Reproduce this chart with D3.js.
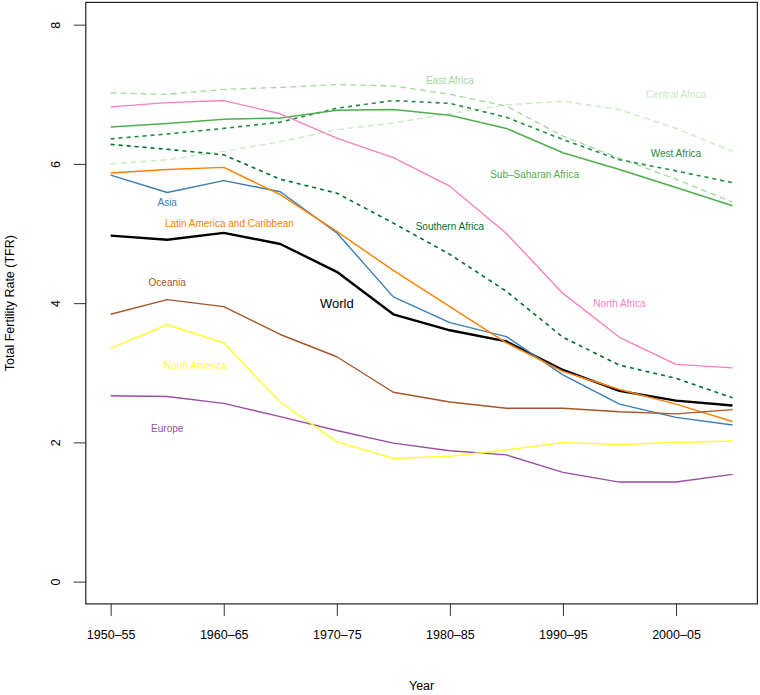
<!DOCTYPE html>
<html>
<head>
<meta charset="utf-8">
<script src="https://cdn.jsdelivr.net/npm/d3@7"></script>
<style>
html, body { margin: 0; padding: 0; background: #fff; }
svg { display: block; font-family: "Liberation Sans", Arial, Helvetica, sans-serif; }
</style>
</head>
<body>
<svg id="chart" width="760" height="695"></svg>
<script>
// ---- Data ----
const periods = ["1950–55","1955–60","1960–65","1965–70","1970–75","1975–80","1980–85","1985–90","1990–95","1995–00","2000–05","2005–10"];
const xTickIndex = [0, 2, 4, 6, 8, 10];
const xTickLabels = ["1950–55","1960–65","1970–75","1980–85","1990–95","2000–05"];
const yTicks = [0, 2, 4, 6, 8];

const world          = [4.97, 4.91, 5.01, 4.85, 4.45, 3.84, 3.61, 3.45, 3.04, 2.74, 2.60, 2.53];
const asia           = [5.84, 5.59, 5.76, 5.60, 5.01, 4.09, 3.72, 3.52, 2.97, 2.55, 2.36, 2.25];
const latinAmerica   = [5.87, 5.92, 5.95, 5.56, 5.03, 4.47, 3.95, 3.43, 3.02, 2.76, 2.55, 2.30];
const northAfrica    = [6.82, 6.88, 6.91, 6.72, 6.37, 6.09, 5.68, 5.00, 4.14, 3.51, 3.12, 3.07];
const subSaharan     = [6.53, 6.58, 6.64, 6.66, 6.77, 6.78, 6.70, 6.51, 6.16, 5.92, 5.66, 5.40];
const westAfrica     = [6.36, 6.43, 6.51, 6.60, 6.80, 6.91, 6.87, 6.67, 6.35, 6.06, 5.90, 5.73];
const southernAfrica = [6.28, 6.21, 6.13, 5.78, 5.58, 5.15, 4.70, 4.17, 3.51, 3.11, 2.92, 2.64];
const eastAfrica     = [7.02, 7.00, 7.07, 7.10, 7.14, 7.12, 7.00, 6.83, 6.40, 6.08, 5.78, 5.45];
const centralAfrica  = [6.00, 6.06, 6.18, 6.32, 6.49, 6.59, 6.72, 6.85, 6.90, 6.78, 6.51, 6.18];
const oceania        = [3.84, 4.05, 3.95, 3.55, 3.23, 2.72, 2.58, 2.49, 2.49, 2.44, 2.41, 2.47];
const northAmerica   = [3.35, 3.69, 3.43, 2.58, 2.01, 1.77, 1.80, 1.89, 2.00, 1.97, 2.00, 2.02];
const europe         = [2.67, 2.66, 2.56, 2.37, 2.17, 1.99, 1.88, 1.82, 1.57, 1.43, 1.43, 1.54];

const seriesNames = ["World","East Africa","Central Africa","West Africa","Southern Africa","Sub–Saharan Africa","North Africa","Asia","Europe","Latin America and Caribbean","North America","Oceania"];
const seriesValues = [world, eastAfrica, centralAfrica, westAfrica, southernAfrica, subSaharan, northAfrica, asia, europe, latinAmerica, northAmerica, oceania];
const seriesColors = ["#000000","#A1D99B","#C7E9C0","#238B45","#006D2C","#4DAF4A","#F781BF","#377EB8","#984EA3","#FF7F00","#FFFF33","#A65628"];
const seriesDash   = [null, "6,4", "6,4", "4,4", "4,4", null, null, null, null, null, null, null];
const seriesWidth  = [2.4, 1.3, 1.3, 1.6, 1.6, 1.5, 1.4, 1.4, 1.4, 1.4, 1.5, 1.4];

// label anchor positions (period index, TFR)
const labelX = [4, 6, 10, 10, 6, 7.5, 9, 1, 1, 2.1, 1.5, 1];
const labelY = [4.0, 7.2, 7.0, 6.15, 5.1, 5.85, 4.0, 5.45, 2.2, 5.15, 3.1, 4.3];
const labelSize = [13, 10, 10, 10, 10, 10, 10, 10, 10, 10, 10, 10];

// ---- Layout ----
const svg = d3.select("#chart");
const mLeft = 85.8, mRight = 757.4, mTop = 2.4, mBottom = 603.9;
const x = d3.scaleLinear().domain([-0.44, 11.44]).range([mLeft, mRight]);
const y = d3.scaleLinear().domain([-0.32, 8.32]).range([mBottom, mTop]);

// axes
const xAxis = d3.axisBottom(x).tickValues(xTickIndex)
  .tickFormat((d, i) => xTickLabels[i]).tickSize(12).tickPadding(14).tickSizeOuter(0);
const gx = svg.append("g").attr("transform", `translate(0,${mBottom})`).call(xAxis);
gx.select(".domain").remove();
gx.selectAll("line").attr("stroke", "#333").attr("stroke-width", 1);
gx.selectAll("text").attr("font-size", 12.5).attr("fill", "#000")
  .attr("font-family", "Liberation Sans, Arial, sans-serif");

const yAxis = d3.axisLeft(y).tickValues(yTicks).tickSize(12).tickSizeOuter(0).tickFormat("");
const gy = svg.append("g").attr("transform", `translate(${mLeft},0)`).call(yAxis);
gy.select(".domain").remove();
gy.selectAll("line").attr("stroke", "#333").attr("stroke-width", 1);
gy.selectAll(".tick text").remove();
gy.selectAll(".tick").append("text")
  .attr("transform", "translate(-30,0) rotate(-90)")
  .attr("text-anchor", "middle").attr("dy", "0.35em")
  .attr("font-size", 12.5).attr("fill", "#000")
  .attr("font-family", "Liberation Sans, Arial, sans-serif")
  .text(d => d);

// box
svg.append("rect").attr("x", mLeft).attr("y", mTop)
  .attr("width", mRight - mLeft).attr("height", mBottom - mTop)
  .attr("fill", "none").attr("stroke", "#222").attr("stroke-width", 1.2);

// axis titles
svg.append("text").attr("x", (mLeft + mRight) / 2).attr("y", 686)
  .attr("text-anchor", "middle").attr("dy", "0.35em").attr("font-size", 12.5).text("Year");
svg.append("text").attr("transform", `translate(10,${(mTop + mBottom) / 2}) rotate(-90)`)
  .attr("text-anchor", "middle").attr("dy", "0.35em").attr("font-size", 12.5)
  .text("Total Fertility Rate (TFR)");

// lines
const line = d3.line().x((d, i) => x(i)).y(d => y(d));
seriesValues.forEach((vals, k) => {
  svg.append("path").datum(vals)
    .attr("d", line)
    .attr("fill", "none")
    .attr("stroke", seriesColors[k])
    .attr("stroke-width", seriesWidth[k])
    .attr("stroke-linejoin", "round")
    .attr("stroke-dasharray", seriesDash[k]);
});

// labels
seriesNames.forEach((name, k) => {
  svg.append("text")
    .attr("x", x(labelX[k])).attr("y", y(labelY[k]))
    .attr("text-anchor", "middle").attr("dy", "0.35em")
    .attr("font-size", labelSize[k])
    .attr("fill", seriesColors[k])
    .text(name);
});
</script>
</body>
</html>
